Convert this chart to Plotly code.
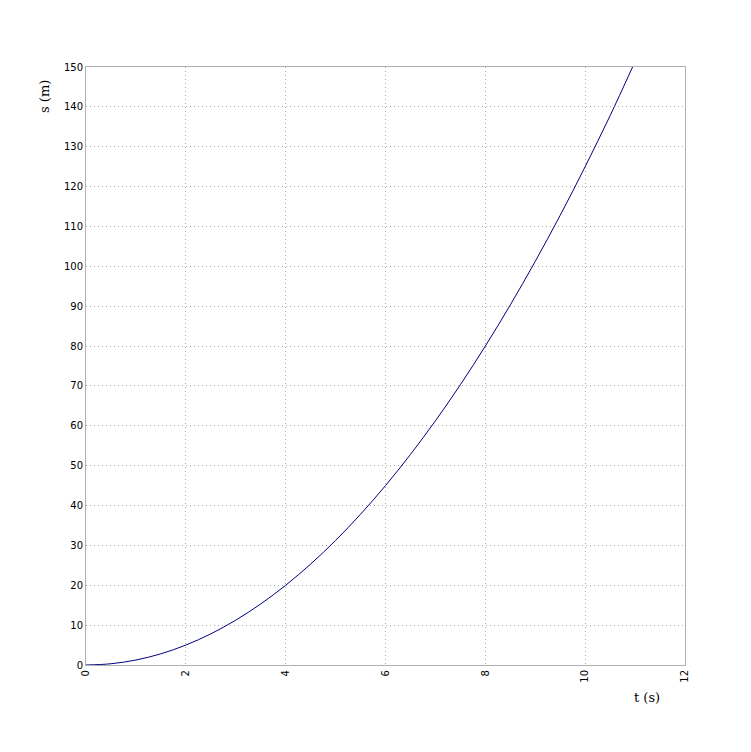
import plotly.graph_objects as go

# values
t_values = [0, 0.5, 1, 1.5, 2, 2.5, 3, 3.5, 4, 4.5, 5, 5.5, 6, 6.5, 7, 7.5, 8, 8.5, 9, 9.5, 10, 10.5, 10.95]
s_values = [0, 0.31, 1.25, 2.81, 5, 7.81, 11.25, 15.31, 20, 25.31, 31.25, 37.81, 45, 52.81, 61.25, 70.31,
            80, 90.31, 101.25, 112.81, 125, 137.81, 150]
x_ticks = [0, 2, 4, 6, 8, 10, 12]
y_ticks = list(range(0, 151, 10))

fig = go.Figure()
fig.add_trace(go.Scatter(x=t_values, y=s_values, mode="lines",
                         line=dict(color="#000080", width=1, shape="spline"),
                         hoverinfo="skip", showlegend=False))

grid = dict(showgrid=True, gridcolor="#aaaaaa", griddash="1px,3px", gridwidth=1,
            showline=True, linecolor="#b0b0b0", linewidth=1, mirror=True,
            zeroline=False, ticks="", automargin=False,
            tickfont=dict(family="DejaVu Sans", size=10, color="#000000"))

fig.update_xaxes(range=[0, 12], tickvals=x_ticks, ticktext=[str(v) for v in x_ticks],
                 tickangle=-90, **grid)
fig.update_yaxes(range=[0, 150], tickvals=y_ticks, ticktext=[str(v) for v in y_ticks], **grid)

# page body has an 8px margin; figure is sized to fit the window
OFF = 8
W, H = 751 - OFF, 752 - OFF
L, T = 86 - OFF, 67 - OFF
pw, ph = 599, 598
R, B = W - L - pw, H - T - ph

def ann(text, px, py, angle=0):
    fig.add_annotation(text=text, x=(px - OFF - L) / pw, y=1 - (py - OFF - T) / ph,
                       xref="paper", yref="paper", showarrow=False, textangle=angle,
                       xanchor="center", yanchor="middle",
                       font=dict(family="DejaVu Serif", size=13, color="#000000"))

ann("t (s)", 647, 697)
ann("s (m)", 45, 97, -90)

fig.update_layout(width=W, height=H, margin=dict(l=L, r=R, t=T, b=B),
                  paper_bgcolor="white", plot_bgcolor="white")

fig.write_html("out.html")
